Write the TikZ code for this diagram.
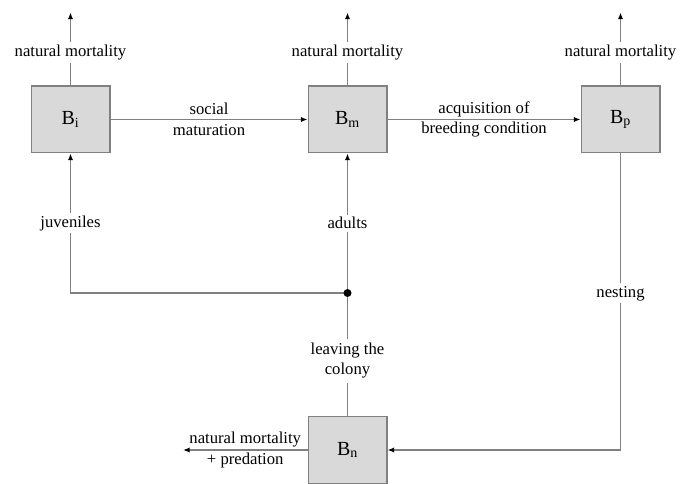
\documentclass[tikz,border=0pt]{standalone}
\usepackage{fontspec}
\setmainfont{Liberation Serif}
\usetikzlibrary{arrows.meta}
\definecolor{boxgray}{RGB}{217,217,217}
\definecolor{linegray}{RGB}{128,128,128}

\begin{document}
\begin{tikzpicture}[x=0.75pt, y=-0.75pt, font=\fontsize{12.5}{15.5}\selectfont,
    pool/.style={rectangle, draw=linegray, fill=boxgray, line width=1pt, minimum width=59pt, minimum height=50pt, font=\fontsize{15}{17}\selectfont},
    flow/.style={draw=linegray, line width=1pt, -{Latex[black,length=5pt,width=4pt]}},
    lbl/.style={fill=white, inner sep=2pt},
    twoline/.style={align=center, inner sep=0pt}]
  \useasboundingbox (0,0) rectangle (689,484);
  \node[pool] (bi) at (70.5,119.5) {B\textsubscript{i}};
  \node[pool] (bm) at (347.5,119.5) {B\textsubscript{m}};
  \node[pool] (bp) at (620.5,119.5) {B\textsubscript{p}};
  \node[pool] (bn) at (347.5,450) {B\textsubscript{n}};
  \coordinate (jn) at (347.5,293);
  \coordinate (out) at (183,450);
  \foreach \p in {bi,bm,bp}
    \draw[flow] (\p.north) -- ++(0,-73) node[lbl, pos=0.45] {natural mortality};
  \draw[flow] (bi.east) -- node[twoline] {social\\maturation} (bm.west);
  \draw[flow] (bm.east) -- node[twoline] {acquisition of\\breeding condition} (bp.west);
  \draw[flow] (jn) -| node[lbl, pos=0.75] {juveniles} (bi.south);
  \draw[flow] (jn) -- node[lbl] {adults} (bm.south);
  \draw[draw=linegray, line width=1pt] (bn.north) -- node[twoline, fill=white, inner sep=3pt, pos=0.45] {leaving the\\colony} (jn);
  \draw[flow] (bp.south) |- node[lbl, pos=0.236] {nesting} (bn.east);
  \draw[flow] (bn.west) -- node[twoline] {natural mortality\\+ predation} (out);
  \fill (jn) circle (3pt);
\end{tikzpicture}
\end{document}
